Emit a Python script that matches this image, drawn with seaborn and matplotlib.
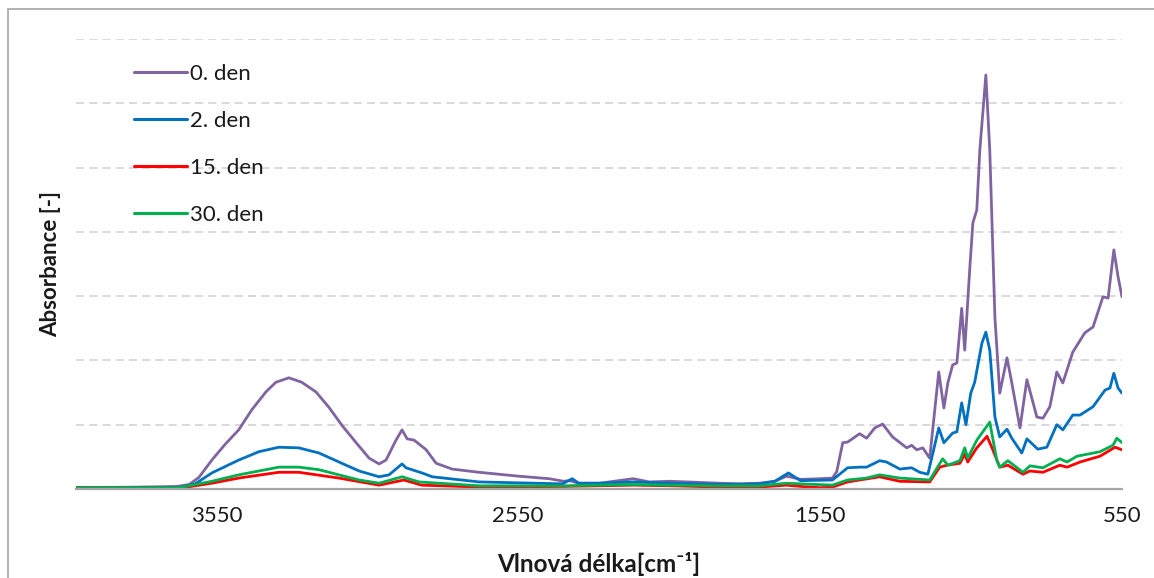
import matplotlib
matplotlib.use("Agg")
import matplotlib.pyplot as plt
import matplotlib.patches as mpatches
import seaborn as sns
import pandas as pd

# ---- data ----
series_names = ["0. den", "2. den", "15. den", "30. den"]
series_colors = ["#8064A2", "#0070C0", "#FF0000", "#00B050"]

wn_den0 = [4015, 3800, 3680, 3640, 3608, 3565, 3520, 3476, 3433, 3386, 3353, 3310, 3267, 3220, 3177,
           3134, 3087, 3044, 3011, 2988, 2955, 2935, 2918, 2895, 2855, 2822, 2769, 2680, 2550, 2447,
           2400, 2381, 2350, 2281, 2169, 2116, 2046, 1990, 1883, 1814, 1751, 1700, 1661, 1615, 1550,
           1509, 1495, 1475, 1459, 1419, 1396, 1369, 1343, 1310, 1263, 1247, 1230, 1210, 1187, 1157,
           1140, 1127, 1111, 1097, 1081, 1071, 1054, 1044, 1031, 1021, 1001, 988, 971, 955, 931,
           915, 888, 865, 832, 812, 789, 766, 746, 713, 673, 646, 613, 596, 577, 563, 550]
abs_den0 = [0.002, 0.003, 0.004, 0.007, 0.018, 0.045, 0.070, 0.092, 0.123, 0.151, 0.166, 0.173, 0.166, 0.151, 0.127,
            0.099, 0.072, 0.048, 0.039, 0.045, 0.076, 0.092, 0.078, 0.076, 0.061, 0.040, 0.031, 0.026, 0.020, 0.016,
            0.012, 0.013, 0.009, 0.009, 0.016, 0.011, 0.012, 0.011, 0.009, 0.008, 0.009, 0.012, 0.020, 0.015, 0.016,
            0.017, 0.027, 0.072, 0.073, 0.086, 0.079, 0.095, 0.101, 0.081, 0.064, 0.068, 0.061, 0.064, 0.048, 0.182,
            0.126, 0.165, 0.193, 0.196, 0.281, 0.216, 0.345, 0.414, 0.434, 0.527, 0.644, 0.527, 0.267, 0.149, 0.204,
            0.165, 0.095, 0.170, 0.112, 0.110, 0.128, 0.182, 0.165, 0.213, 0.243, 0.252, 0.299, 0.297, 0.372, 0.330, 0.299]

wn_den2 = [4015, 3700, 3675, 3620, 3565, 3476, 3409, 3343, 3277, 3210, 3144, 3077, 3011, 2978, 2935,
           2922, 2869, 2835, 2680, 2404, 2371, 2350, 2281, 2169, 2046, 1883, 1751, 1700, 1655, 1615,
           1509, 1459, 1419, 1396, 1353, 1330, 1286, 1247, 1220, 1193, 1157, 1140, 1111, 1097, 1081,
           1067, 1051, 1038, 1014, 1001, 988, 971, 955, 931, 915, 882, 865, 829, 799, 766,
           746, 713, 689, 646, 606, 590, 577, 563, 550]
abs_den2 = [0.002, 0.002, 0.002, 0.008, 0.025, 0.045, 0.058, 0.065, 0.064, 0.056, 0.042, 0.028, 0.019, 0.022, 0.039,
            0.033, 0.025, 0.019, 0.011, 0.008, 0.016, 0.009, 0.009, 0.011, 0.009, 0.007, 0.008, 0.012, 0.025, 0.013,
            0.014, 0.033, 0.034, 0.034, 0.044, 0.042, 0.031, 0.033, 0.026, 0.023, 0.095, 0.072, 0.087, 0.089, 0.134,
            0.100, 0.149, 0.166, 0.227, 0.244, 0.216, 0.112, 0.081, 0.093, 0.079, 0.056, 0.078, 0.062, 0.065, 0.100,
            0.092, 0.115, 0.115, 0.128, 0.154, 0.157, 0.180, 0.157, 0.149]

wn_den15 = [4015, 3700, 3675, 3565, 3476, 3343, 3277, 3144, 3011, 2929, 2870, 2680, 2400, 2281, 2169,
            2046, 1883, 1751, 1661, 1615, 1550, 1509, 1459, 1353, 1286, 1187, 1154, 1130, 1087, 1071,
            1061, 1031, 997, 978, 955, 928, 878, 855, 812, 756, 732, 689, 623, 573, 550]
abs_den15 = [0.002, 0.001, 0.001, 0.009, 0.017, 0.026, 0.026, 0.017, 0.006, 0.014, 0.006, 0.003, 0.004, 0.005, 0.006,
             0.005, 0.003, 0.003, 0.006, 0.004, 0.002, 0.003, 0.011, 0.019, 0.012, 0.011, 0.034, 0.037, 0.040, 0.054,
             0.042, 0.064, 0.082, 0.061, 0.034, 0.037, 0.023, 0.028, 0.026, 0.037, 0.034, 0.042, 0.051, 0.065, 0.061]

wn_den30 = [4015, 3700, 3675, 3565, 3476, 3343, 3277, 3210, 3144, 3077, 3011, 2935, 2879, 2680, 2400,
            2281, 2169, 2046, 1883, 1751, 1661, 1615, 1509, 1459, 1396, 1353, 1286, 1187, 1144, 1127,
            1087, 1071, 1061, 1031, 988, 965, 955, 928, 878, 855, 812, 756, 732, 699, 623,
            580, 567, 550]
abs_den30 = [0.002, 0.002, 0.002, 0.012, 0.022, 0.034, 0.034, 0.030, 0.022, 0.014, 0.009, 0.019, 0.011, 0.005, 0.005,
             0.006, 0.007, 0.006, 0.005, 0.005, 0.009, 0.008, 0.006, 0.014, 0.017, 0.022, 0.017, 0.014, 0.047, 0.037,
             0.044, 0.064, 0.048, 0.076, 0.104, 0.045, 0.034, 0.044, 0.026, 0.036, 0.033, 0.047, 0.042, 0.051, 0.058,
             0.068, 0.079, 0.072]

x_ticks = [3550, 2550, 1550, 550]
x_label = "Vlnová délka[cm⁻¹]"
y_label = "Absorbance [-]"

# ---- build long-form table ----
frames = []
for name, wn, ab in zip(series_names,
                        [wn_den0, wn_den2, wn_den15, wn_den30],
                        [abs_den0, abs_den2, abs_den15, abs_den30]):
    frames.append(pd.DataFrame({"wn": wn, "A": ab, "serie": name}))
df = pd.concat(frames, ignore_index=True)

sns.set_theme(style="white")
plt.rcParams["font.family"] = ["Lato", "DejaVu Sans"]

fig = plt.figure(figsize=(11.54, 5.78), dpi=100)
ax = fig.add_axes([76 / 1154, 89 / 578, (1122 - 76) / 1154, (489 - 39) / 578])

sns.lineplot(data=df, x="wn", y="A", hue="serie", hue_order=series_names,
             palette=dict(zip(series_names, series_colors)), linewidth=2.0,
             sort=True, estimator=None, ax=ax)

ax.set_xlim(4015, 550)
ax.set_ylim(0, 0.7)
ax.set_yticks([0.1, 0.2, 0.3, 0.4, 0.5, 0.6, 0.7])
ax.set_yticklabels([])
ax.tick_params(axis="y", length=0, pad=0)
ax.set_xticks(x_ticks)
ax.set_xticklabels([str(t) for t in x_ticks], fontsize=16, color="#1a1a1a")
ax.tick_params(axis="x", length=0, pad=12)
ax.yaxis.grid(True, color="#D9D9D9", linewidth=1.4, linestyle=(0, (4.2, 2.6)))
ax.xaxis.grid(False)
for s in ["top", "right", "left"]:
    ax.spines[s].set_visible(False)
ax.spines["bottom"].set_color("#A6A6A6")
ax.spines["bottom"].set_linewidth(1.6)
ax.set_facecolor("white")

ax.set_xlabel(x_label, fontsize=17.5, fontweight="bold", color="#1a1a1a", labelpad=19)
ax.set_ylabel(y_label, fontsize=16, fontweight="bold", color="#1a1a1a", labelpad=11)

leg = ax.legend(loc="upper left", bbox_to_anchor=(0.047, 0.965), frameon=False,
                fontsize=16, handlelength=2.4, handletextpad=0.12, labelspacing=1.22,
                borderaxespad=0)
for line in leg.get_lines():
    line.set_linewidth(2.2)
for t in leg.get_texts():
    t.set_color("#1a1a1a")

# chart outer border (Excel chart area)
fig.patches.append(mpatches.Rectangle((8 / 1154, -0.05), 1.2, 1 - 9 / 578 + 0.05,
                                      transform=fig.transFigure, fill=False,
                                      edgecolor="#A6A6A6", linewidth=1.2))

fig.savefig("out.png", dpi=100, facecolor="white")
